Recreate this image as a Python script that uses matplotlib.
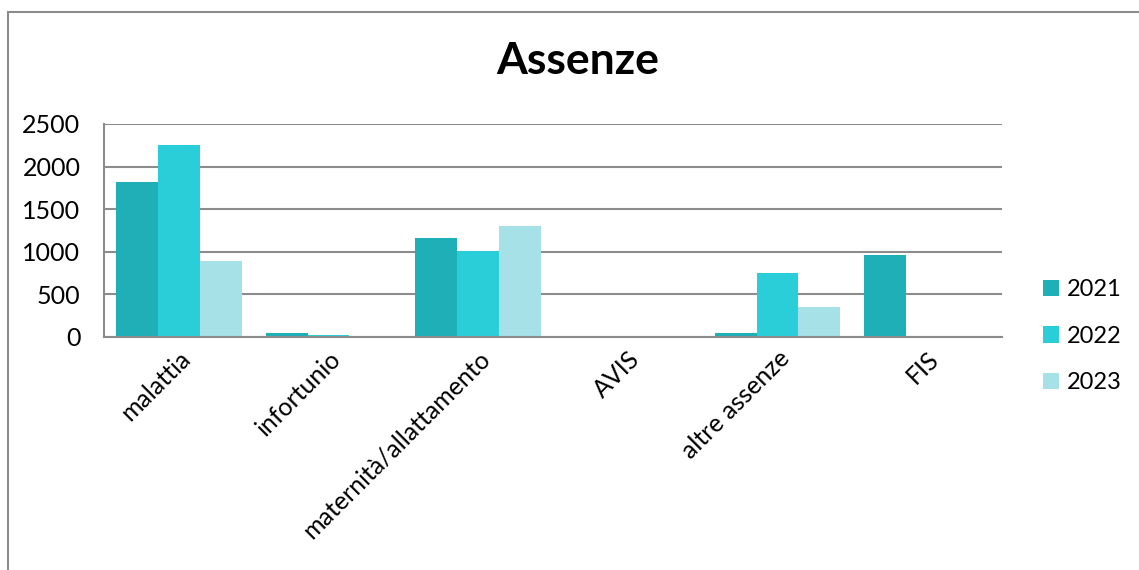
import matplotlib.pyplot as plt
from matplotlib.patches import Rectangle
import numpy as np

categories = ['malattia', 'infortunio', 'maternità/allattamento', 'AVIS', 'altre assenze', 'FIS']
years = ['2021', '2022', '2023']
val2021 = [1820, 52, 1160, 0, 50, 960]
val2022 = [2250, 24, 1010, 0, 750, 0]
val2023 = [890, 0, 1300, 5, 350, 0]
colors = ['#1fb0b7', '#29ced8', '#a5e1e7']

plt.rcParams['font.family'] = ['Lato', 'DejaVu Sans']

fig = plt.figure(figsize=(11.39, 5.70), dpi=100)
ax = fig.add_axes([0.0913, 0.4088, 0.7884, 0.3737])

x = np.arange(len(categories))
w = 0.28
for i, (vals, lab) in enumerate(zip([val2021, val2022, val2023], years)):
    ax.bar(x + (i - 1) * w, vals, width=w, color=colors[i], label=lab, zorder=2)

ax.set_xlim(-0.5, len(categories) - 0.5)
ax.set_ylim(0, 2500)
ax.set_yticks(range(0, 2501, 500))
ax.yaxis.grid(True, color='#8c8c8c', linewidth=1.5, zorder=0)
ax.set_axisbelow(True)
for s in ['top', 'right']:
    ax.spines[s].set_visible(False)
for s in ['left', 'bottom']:
    ax.spines[s].set_color('#8c8c8c')
    ax.spines[s].set_linewidth(1.5)
ax.tick_params(axis='y', length=0, labelsize=18, pad=17)
ax.tick_params(axis='x', length=0, labelsize=18, pad=7)
ax.set_xticks(x)
ax.set_xticklabels(categories, rotation=45, ha='right', rotation_mode='anchor')

fig.legend(loc='center left', bbox_to_anchor=(0.897, 0.41), frameon=False,
           fontsize=17, handlelength=0.7, handleheight=0.7, handletextpad=0.3,
           labelspacing=1.08)

fig.text(0.507, 0.893, 'Assenze', ha='center', va='center', fontsize=32, fontweight='bold')

# outer frame of the chart area
fig.patches.append(Rectangle((7.5 / 1139, -0.2), 1.2, 0.2 + 1 - 11.5 / 570,
                             transform=fig.transFigure, fill=False,
                             edgecolor='#8c8c8c', linewidth=1.5))

fig.savefig('out.png', dpi=100)
